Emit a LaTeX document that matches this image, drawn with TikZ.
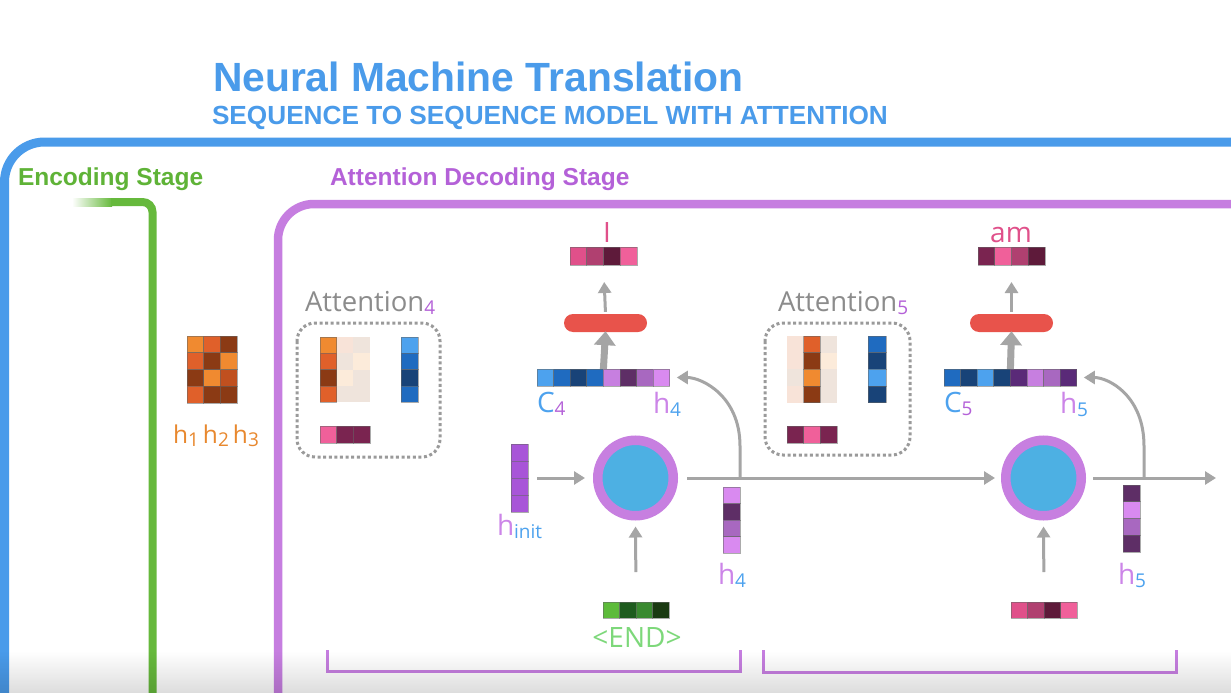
\documentclass[tikz,border=0pt]{standalone}
\usepackage{fontspec}
\setmainfont{Open Sans}
\newfontfamily\headfont{Liberation Sans}
\usetikzlibrary{arrows.meta}

\definecolor{tblue}{HTML}{4A9BEA}
\definecolor{fblue}{HTML}{4A9BEA}
\definecolor{egreen}{HTML}{66B93C}
\definecolor{tgreen}{HTML}{5FB337}
\definecolor{dpurple}{HTML}{C67EE0}
\definecolor{tpurple}{HTML}{B461D8}
\definecolor{arrgray}{HTML}{A5A5A5}
\definecolor{dotgray}{HTML}{9A9A9A}
\definecolor{pillred}{HTML}{E8534B}
\definecolor{ringpurple}{HTML}{C77FE0}
\definecolor{coreblue}{HTML}{4DB0E3}
\definecolor{endgreen}{HTML}{7DD87A}
\definecolor{hpurple}{HTML}{CC85E8}
\definecolor{subblue}{HTML}{4DA2EE}
\definecolor{labpink}{HTML}{E0508A}
\definecolor{horange}{HTML}{E8882E}
\definecolor{attgray}{HTML}{8C8C8C}
% cell colours
\definecolor{oL}{HTML}{F08A30}
\definecolor{oM}{HTML}{E0602A}
\definecolor{oB}{HTML}{8B3A14}
\definecolor{oC}{HTML}{C0501F}
\definecolor{fA}{HTML}{F8E3D8}
\definecolor{fB}{HTML}{EFE4DC}
\definecolor{fC}{HTML}{FCEBDA}
\definecolor{bL}{HTML}{4DA2EE}
\definecolor{bM}{HTML}{1F6BC0}
\definecolor{bD}{HTML}{184378}
\definecolor{pP}{HTML}{F0609A}
\definecolor{pD}{HTML}{7A2450}
\definecolor{pM}{HTML}{B04070}
\definecolor{pK}{HTML}{5E1A3A}
\definecolor{pR}{HTML}{E0508A}
\definecolor{vL}{HTML}{D98AF0}
\definecolor{vD}{HTML}{5E2E66}
\definecolor{vM}{HTML}{A868C0}
\definecolor{vP}{HTML}{C77FE0}
\definecolor{vI}{HTML}{A855D8}
\definecolor{vX}{HTML}{5A2A78}
\definecolor{gA}{HTML}{5DBB3A}
\definecolor{gB}{HTML}{1E5C1E}
\definecolor{gC}{HTML}{3A8A30}
\definecolor{gD}{HTML}{1A3A12}

\tikzset{
  cellline/.style={draw=black!60, draw opacity=0.55, line width=0.7pt},
  arr/.style={draw=arrgray, line width=3pt, -{Triangle[length=11pt,width=13pt]}},
  thickarr/.style={draw=arrgray, line width=7pt, -{Triangle[length=14pt,width=21pt]}},
  pill/.style={fill=pillred, rounded corners=9pt, minimum width=83pt, minimum height=18pt, inner sep=0pt},
  rnn/.style={circle, fill=coreblue, draw=ringpurple, line width=9.5pt, minimum size=75.5pt, inner sep=0pt},
  dotbox/.style={draw=dotgray, line width=3pt, dash pattern=on 3pt off 2.6pt, rounded corners=18pt},
  bracket/.style={draw=dpurple, line width=3pt},
  lab/.style={inner sep=0pt, outer sep=0pt},
}

% horizontal vector: name, x, y(top), cell w, cell h, n, colours
\newcommand{\hvec}[7]{%
  \node[inner sep=0pt, outer sep=0pt, minimum width={#4*#6}, minimum height=#5, anchor=north west] (#1) at (#2,#3) {};
  \foreach \cc [count=\ii from 0] in {#7}{\filldraw[cellline, fill=\cc] ({#2+\ii*#4},#3) rectangle ++(#4,#5);}
}
% vertical vector
\newcommand{\vvec}[7]{%
  \node[inner sep=0pt, outer sep=0pt, minimum width=#4, minimum height={#5*#6}, anchor=north west] (#1) at (#2,#3) {};
  \foreach \cc [count=\ii from 0] in {#7}{\filldraw[cellline, fill=\cc] (#2,{#3+\ii*#5}) rectangle ++(#4,#5);}
}
\newcommand{\lbl}[1]{\fontsize{28}{30}\selectfont #1}
\newcommand{\lsub}[2]{\raisebox{-3pt}{\fontsize{19}{19}\selectfont\color{#1}#2}}

\begin{document}
\begin{tikzpicture}[x=1pt,y=-1pt]
\useasboundingbox (0,0) rectangle (1231,693);
\clip (0,0) rectangle (1231,693);
\fill[white] (0,0) rectangle (1231,693);

% ---------- titles ----------
\node[lab, anchor=base west, text=tblue] (title) at (213,91)
  {\headfont\bfseries\fontsize{40.8}{44}\selectfont Neural Machine Translation};
\node[lab, anchor=base west, text=tblue] (subtitle) at (212,124)
  {\headfont\bfseries\fontsize{26.2}{30}\selectfont SEQUENCE TO SEQUENCE MODEL WITH ATTENTION};

% ---------- frames ----------
\draw[line width=9pt, fblue, rounded corners=40pt] (4.5,760) -- (4.5,142) -- (1290,142);
\node[lab, anchor=base west, text=tgreen] (enclab) at (18,185)
  {\headfont\bfseries\fontsize{24.5}{28}\selectfont Encoding Stage};
\shade[left color=white, right color=egreen] (72,198) rectangle (112,206);
\draw[line width=8pt, egreen, rounded corners=10pt] (111,202) -- (152.5,202) -- (152.5,760);
\node[lab, anchor=base west, text=tpurple] (declab) at (330,185)
  {\headfont\bfseries\fontsize{24.5}{28}\selectfont Attention Decoding Stage};
\draw[line width=8.5pt, dpurple, rounded corners=36pt] (278,760) -- (278,204) -- (1290,204);

% ---------- encoder states ----------
\vvec{e1}{187}{336}{16.7}{16.75}{4}{oL,oM,oB,oM}
\vvec{e2}{203.7}{336}{16.7}{16.75}{4}{oM,oB,oL,oB}
\vvec{e3}{220.4}{336}{16.7}{16.75}{4}{oB,oL,oC,oB}
\node[lab, anchor=base west, text=horange] (hlab) at (173,443)
  {\fontsize{24.5}{28}\selectfont h\lsub{horange}{1}\,h\lsub{horange}{2}\,h\lsub{horange}{3}};

% ---------- attention 4 ----------
\node[lab, anchor=base west, text=attgray] (att4lab) at (305,311)
  {\fontsize{27.5}{30}\selectfont Attention\lsub{tpurple}{4}};
\draw[dotbox] (297,323) rectangle (440,457);
\vvec{a4o}{320}{337}{16.7}{16.3}{4}{oL,oM,oB,oM}
\foreach \cc [count=\ii from 0] in {fA,fB,fC,fB}{\fill[\cc] (336.7,{337+\ii*16.3}) rectangle ++(16.7,16.3);}
\foreach \cc [count=\ii from 0] in {fB,fC,fB,fB}{\fill[\cc] (353.4,{337+\ii*16.3}) rectangle ++(16.7,16.3);}
\vvec{a4b}{401}{337}{17}{16.3}{4}{bL,bM,bD,bM}
\hvec{a4p}{320}{426}{16.7}{17}{3}{pP,pD,pD}

% ---------- attention 5 ----------
\node[lab, anchor=base west, text=attgray] (att5lab) at (778,311)
  {\fontsize{27.5}{30}\selectfont Attention\lsub{tpurple}{5}};
\draw[dotbox] (765,323) rectangle (910,455);
\foreach \cc [count=\ii from 0] in {fA,fA,fB,fA}{\fill[\cc] (787,{336+\ii*16.7}) rectangle ++(16.7,16.7);}
\foreach \cc [count=\ii from 0] in {fB,fC,fB,fB}{\fill[\cc] (820.4,{336+\ii*16.7}) rectangle ++(16.7,16.7);}
\vvec{a5o}{803.7}{336}{16.7}{16.7}{4}{oM,oB,oL,oB}
\vvec{a5b}{868}{336}{18}{16.7}{4}{bM,bD,bL,bD}
\hvec{a5p}{787}{426}{16.7}{17}{3}{pD,pP,pD}

% ---------- decoder step 1 ----------
\hvec{out1}{570}{247}{16.75}{18}{4}{pR,pM,pK,pP}
\node[lab, anchor=base, text=labpink] (out1lab) at (607,242) {\lbl{I}};
\node[pill] (pill1) at (605.5,323) {};
\hvec{cat1}{537}{369}{16.6}{17}{8}{bL,bM,bD,bM,vP,vD,vM,vL}
\node[lab, anchor=base west, text=subblue] (c4lab) at (537,412) {\lbl{C\lsub{tpurple}{4}}};
\node[lab, anchor=base west, text=hpurple] (h4tlab) at (653,413) {\lbl{h\lsub{subblue}{4}}};
\node[rnn] (rnn1) at (635.5,478) {};
\vvec{hinit}{511}{444}{17}{17}{4}{vI,vI,vI,vI}
\node[lab, anchor=base west, text=hpurple] (hinitlab) at (497,535) {\lbl{h\lsub{subblue}{init}}};
\hvec{endv}{603}{602}{16.5}{16}{4}{gA,gB,gC,gD}
\node[lab, anchor=base, text=endgreen] (endlab) at (637,647) {\lbl{<END>}};
\vvec{h4v}{723}{487}{17}{16.5}{4}{vL,vD,vM,vL}
\node[lab, anchor=base west, text=hpurple] (h4blab) at (718,584) {\lbl{h\lsub{subblue}{4}}};
\coordinate (j1) at (h4v.east |- rnn1.east);

% ---------- decoder step 2 ----------
\hvec{out2}{978}{247}{16.75}{18}{4}{pD,pP,pM,pK}
\node[lab, anchor=base, text=labpink] (out2lab) at (1011,242) {\lbl{am}};
\node[pill] (pill2) at (1011.5,323) {};
\hvec{cat2}{944}{369}{16.6}{17}{8}{bM,bD,bL,bD,vX,vP,vM,vX}
\node[lab, anchor=base west, text=subblue] (c5lab) at (944,412) {\lbl{C\lsub{tpurple}{5}}};
\node[lab, anchor=base west, text=hpurple] (h5tlab) at (1060,413) {\lbl{h\lsub{subblue}{5}}};
\node[rnn] (rnn2) at (1043.5,478) {};
\hvec{in2}{1011}{602}{16.5}{16}{4}{pR,pM,pK,pP}
\vvec{h5v}{1123}{485}{17}{16.75}{4}{vD,vL,vM,vD}
\node[lab, anchor=base west, text=hpurple] (h5blab) at (1118,584) {\lbl{h\lsub{subblue}{5}}};
\coordinate (j2) at (1144,478);
\coordinate (rend) at (1216,478);

% ---------- connectors ----------
\draw[arr, shorten <=2pt, shorten >=17pt] (pill1.north) -- (out1.south);
\draw[thickarr, shorten >=-1pt] (cat1.north) -- (pill1.south);
\draw[arr, shorten <=9pt, shorten >=8pt] (hinit.east) -- (hinit.east -| rnn1.west);
\draw[arr, shorten <=30pt, shorten >=6pt] (endv.north) -- (rnn1.south);
\draw[arr, shorten <=9pt, shorten >=6pt] (rnn1.east) -- (rnn2.west);
\draw[arr, shorten >=7pt] (j1) -- ++(0,-32) .. controls ++(0,-50) and ++(32,0) .. (cat1.east);

\draw[arr, shorten <=2pt, shorten >=17pt] (pill2.north) -- (out2.south);
\draw[thickarr, shorten >=-1pt] (cat2.north) -- (pill2.south);
\draw[arr, shorten <=30pt, shorten >=6pt] (in2.north) -- (rnn2.south);
\draw[arr, shorten <=7pt] (rnn2.east) -- (rend);
\draw[arr, shorten >=7pt] (j2) -- ++(0,-32) .. controls ++(0,-50) and ++(32,0) .. (cat2.east);

% ---------- brackets ----------
\draw[bracket] (327,650) -- (327,671) -- (740,671) -- (740,650);
\draw[bracket] (763,650) -- (763,672) -- (1176,672) -- (1176,650);

% ---------- bottom fade ----------
\foreach \k in {0,...,42}{\fill[black, opacity={0.0032*\k}] (0,{651+\k}) rectangle (1231,{652+\k});}
\end{tikzpicture}
\end{document}
